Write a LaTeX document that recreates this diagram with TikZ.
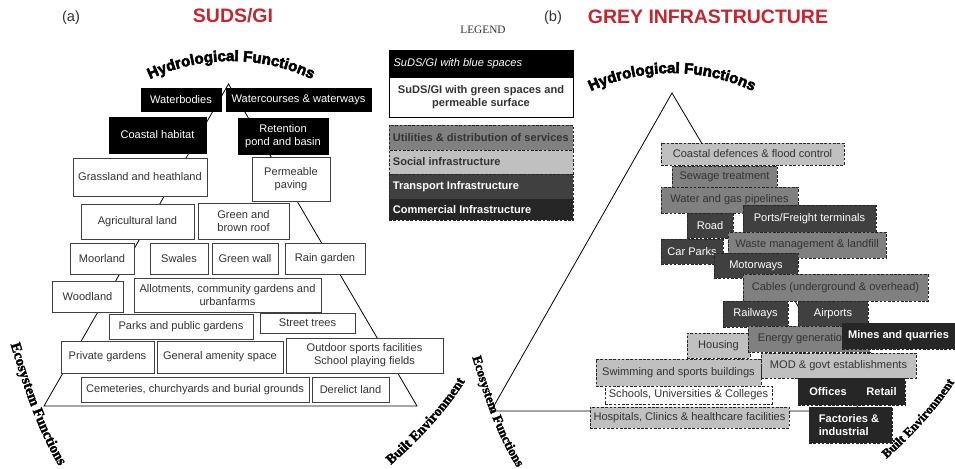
\documentclass[tikz,border=0pt]{standalone}
\usepackage{fontspec}
\setmainfont{Liberation Sans}
\newfontfamily\hydfont[FakeBold=3.5]{Liberation Sans}
\newfontfamily\ecofont[FakeBold=2]{Liberation Serif}
\newfontfamily\legfont{Liberation Serif}
\usetikzlibrary{decorations.text}
\definecolor{sudsred}{RGB}{196,38,48}
\definecolor{txt}{RGB}{51,51,51}
\definecolor{utilgray}{RGB}{128,128,128}
\definecolor{socgray}{RGB}{192,192,192}
\definecolor{trangray}{RGB}{64,64,64}
\definecolor{comgray}{RGB}{38,38,38}
\begin{document}
\begin{tikzpicture}[x=0.75pt,y=-0.75pt,
  sz/.style 2 args={minimum width=#1*0.75pt, minimum height=#2*0.75pt},
  bfont/.style={font=\fontsize{8.3}{9.8}\selectfont},
  gbox/.style={draw=black!75, line width=0.6pt, fill=white, text=txt, bfont, inner sep=0.5pt, align=center},
  bbox/.style={gbox, fill=black, text=white, draw=black},
  ibox/.style={draw=black!85, line width=0.6pt, dash pattern=on 2pt off 1.2pt, inner sep=0.5pt, bfont, align=center},
  util/.style={ibox, fill=utilgray, text=txt},
  soc/.style={ibox, fill=socgray, text=txt},
  schl/.style={ibox, fill=white, text=txt},
  tran/.style={ibox, fill=trangray, text=white},
  comm/.style={ibox, fill=comgray, text=white, font=\fontsize{8.3}{9.8}\selectfont\bfseries},
  ltext/.style={anchor=west, inner sep=0pt, bfont},
  triline/.style={draw=black, line width=0.6pt},
  hydlab/.style={decorate, decoration={text along path, text align=center, text={|\hydfont\bfseries\fontsize{11.3}{12}\selectfont|Hydrological Functions}}},
  ecolab/.style={decorate, decoration={text along path, text align=center, text={|\ecofont\bfseries\fontsize{#1}{12}\selectfont|Ecosystem Functions}}},
  builtlab/.style={decorate, decoration={text along path, text align=center, text={|\ecofont\bfseries\fontsize{#1}{12}\selectfont|Built Environment}}},
]
\useasboundingbox (0,0) rectangle (955,468);
\fill[white] (0,0) rectangle (955,468);

% titles
\node[font=\fontsize{11}{13}\selectfont, text=txt] (la) at (71,18) {(a)};
\node[font=\fontsize{11}{13}\selectfont, text=txt] (lb) at (553,18) {(b)};
\node[font=\fontsize{14.6}{16}\selectfont\bfseries, text=sudsred] (t1) at (233,16) {SUDS/GI};
\node[font=\fontsize{14.6}{16}\selectfont\bfseries, text=sudsred] (t2) at (708,17) {GREY INFRASTRUCTURE};

% curved labels
\path[hydlab] (122,95.4) arc[start angle=-125, end angle=-55, radius=190];
\path[hydlab] (563,107.4) arc[start angle=-125, end angle=-55, radius=190];
\path[ecolab=11] (5,326) .. controls (20,375) and (38,440) .. (70,482);
\path[ecolab=10] (468,343) .. controls (481,386) and (497,443) .. (526,480);
\path[builtlab=10.5] (375,478) .. controls (410.5,450.3) and (456,403.8) .. (475,363);
\path[builtlab=9.6] (867,475) .. controls (902.5,447.3) and (948,400.8) .. (967,360);

% left triangle
\coordinate (LA) at (228.5,84);
\coordinate (LL) at (44,406);
\coordinate (LR) at (417,406);
\draw[triline] (LL) -- (LA) -- (LR) -- cycle;

\node[bbox, sz={80}{23}] (wb) at (181,99.5) {Waterbodies};
\node[bbox, sz={145}{23}] (wc) at (298.5,99.5) {Watercourses \& waterways};
\node[bbox, sz={97}{36}] (ch) at (157.5,135) {Coastal habitat};
\node[bbox, sz={90}{36}] (rp) at (283,136) {Retention\\pond and basin};
\node[gbox, sz={134}{38}] (gh) at (140,177) {Grassland and heathland};
\node[gbox, sz={78}{44}] (pp) at (291,179) {Permeable\\paving};
\node[gbox, sz={113}{35}] (al) at (137.5,221.5) {Agricultural land};
\node[gbox, sz={91}{36}] (gb) at (243.5,221) {Green and\\brown roof};
\node[gbox, sz={64}{31}] (ml) at (102,258.5) {Moorland};
\node[gbox, sz={58}{31}] (sw) at (179,258.5) {Swales};
\node[gbox, sz={66}{31}] (gw) at (245,258.5) {Green wall};
\node[gbox, sz={80}{31}] (rg) at (325,258.5) {Rain garden};
\node[gbox, sz={71}{31}] (wl) at (87.5,296.5) {Woodland};
\node[gbox, sz={187}{34}] (ag) at (227.5,295) {Allotments, community gardens and\\urbanfarms};
\node[gbox, sz={144}{25}] (pg) at (181,326.5) {Parks and public gardens};
\node[gbox, sz={95}{20}] (st) at (307.5,323) {Street trees};
\node[gbox, sz={93}{32}] (pv) at (107.5,357) {Private gardens};
\node[gbox, sz={126}{32}] (ga) at (220,357) {General amenity space};
\node[gbox, sz={157}{35}] (os) at (364.5,355.5) {Outdoor sports facilities\\School playing fields};
\node[gbox, sz={228}{25}] (cc) at (195,389.5) {Cemeteries, churchyards and burial grounds};
\node[gbox, sz={77}{25}] (dl) at (350.5,389.5) {Derelict land};

% legend
\node[font=\legfont\fontsize{8.5}{10}\selectfont, text=txt] (legt) at (483,30) {LEGEND};
\node[draw=black, fill=black, line width=0.6pt, sz={184}{27}, inner sep=0pt] (lg1) at (481,63.5) {};
\node[ltext, text=white, font=\fontsize{8.3}{9.8}\selectfont\itshape] (lg1t) at ([xshift=3.5pt]lg1.west) {SuDS/GI with blue spaces};
\node[draw=black, fill=white, line width=0.6pt, sz={184}{40}, inner sep=0pt, align=center, text=txt, font=\fontsize{8.3}{9.8}\selectfont\bfseries] (lg2) at (481,97) {SuDS/GI with green spaces and\\permeable surface};
\node[util, sz={184}{25}] (lg3) at (481,137.5) {};
\node[ltext, text=txt, font=\fontsize{8.3}{9.8}\selectfont\bfseries] (lg3t) at ([xshift=3pt]lg3.west) {Utilities \& distribution of services};
\node[soc, sz={184}{24}] (lg4) at (481,162) {};
\node[ltext, text=txt, font=\fontsize{8.3}{9.8}\selectfont\bfseries] (lg4t) at ([xshift=3pt]lg4.west) {Social infrastructure};
\node[tran, sz={184}{25}] (lg5) at (481,186.5) {};
\node[ltext, text=white, font=\fontsize{8.3}{9.8}\selectfont\bfseries] (lg5t) at ([xshift=3pt]lg5.west) {Transport Infrastructure};
\node[comm, sz={184}{21}] (lg6) at (481,209.5) {};
\node[ltext, text=white, font=\fontsize{8.3}{9.8}\selectfont\bfseries] (lg6t) at ([xshift=3pt]lg6.west) {Commercial Infrastructure};

% right triangle
\coordinate (RA) at (672,93);
\coordinate (RL) at (491,411);
\coordinate (RR) at (860,411);
\draw[triline] (RL) -- (RA) -- (RR) -- cycle;

\node[soc, sz={183}{22}] (cd) at (752.5,154) {Coastal defences \& flood control};
\node[util, sz={105}{22}] (se) at (724.5,177) {Sewage treatment};
\node[util, sz={137}{26}] (wg) at (729.5,200) {Water and gas pipelines};
\node[tran, sz={46}{25}] (ro) at (710,225.5) {Road};
\node[tran, sz={133}{27}] (pf) at (809.5,218.5) {Ports/Freight terminals};
\node[util, sz={158}{26}] (wm) at (807,245) {Waste management \& landfill};
\node[tran, sz={62}{25}] (cp) at (692,251.5) {Car Parks};
\node[tran, sz={84}{25}] (mw) at (756,265.5) {Motorways};
\node[util, sz={185}{27}] (ca) at (835.5,287.5) {Cables (underground \& overhead)};
\node[tran, sz={65}{26}] (rw) at (755.5,314) {Railways};
\node[tran, sz={70}{25}] (ap) at (833,313.5) {Airports};
\node[soc, sz={63}{25}] (ho) at (718.5,345.5) {Housing};
\node[util, sz={122}{26}] (eg) at (809,339) {};
\node[ltext, text=txt] (egt) at ([xshift=7.5pt]eg.west) {Energy generation};
\node[comm, sz={113}{26}] (mq) at (898.5,336) {Mines and quarries};
\node[soc, sz={155}{25}] (mod) at (838.5,365.5) {MOD \& govt establishments};
\node[soc, sz={165}{27}] (sp) at (678.5,372.5) {Swimming and sports buildings};
\node[comm, sz={60}{27}] (of) at (828,391.5) {Offices};
\node[comm, sz={47}{27}] (re) at (881.5,391.5) {Retail};
\node[schl, sz={167}{18}] (sc) at (688.5,395) {Schools, Universities \& Colleges};
\node[soc, sz={199}{21}] (hc) at (689.5,417.5) {Hospitals, Clinics \& healthcare facilities};
\node[comm, sz={83}{36}] (fi) at (850.5,425) {};
\node[ltext, text=white, align=left, font=\fontsize{8.3}{9.8}\selectfont\bfseries] (fit) at ([xshift=7.5pt]fi.west) {Factories \&\\industrial};
\end{tikzpicture}
\end{document}
